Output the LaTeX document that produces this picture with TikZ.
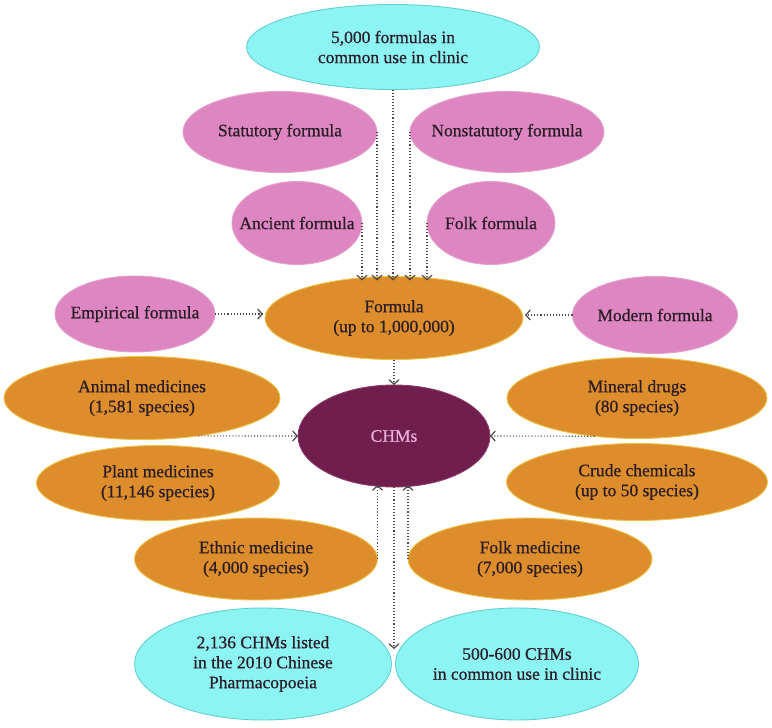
\documentclass[tikz,border=0pt]{standalone}
\usepackage{fontspec}
\setmainfont{Liberation Serif}
\newfontfamily\diagfont{Liberation Serif}[FakeBold=0.6]
\usetikzlibrary{shapes.geometric,arrows.meta}
\definecolor{cyanf}{HTML}{8DF4F4}
\definecolor{cyand}{HTML}{62CFD2}
\definecolor{pinkf}{HTML}{DD86C1}
\definecolor{pinkd}{HTML}{E3A0CE}
\definecolor{orangef}{HTML}{DD8D2B}
\definecolor{oranged}{HTML}{EDC34A}
\definecolor{purplef}{HTML}{6F1E4E}
\definecolor{purpled}{HTML}{8A3A6A}
\definecolor{chmtext}{HTML}{EBB0DC}
\definecolor{txtc}{HTML}{2A1C26}
\definecolor{arrc}{HTML}{4A4A4A}
\tikzset{
  ell/.style={ellipse, inner sep=0pt, outer sep=0pt, line width=0.9pt},
  cyanell/.style={ell, fill=cyanf, draw=cyand},
  pinkell/.style={ell, fill=pinkf, draw=pinkd},
  orangeell/.style={ell, fill=orangef, draw=oranged},
  purpleell/.style={ell, fill=purplef, draw=purpled},
  txt/.style={font=\diagfont\fontsize{17.5}{20}\selectfont, text=txtc, align=center, inner sep=0pt},
  chmtxt/.style={txt, text=chmtext},
  conn/.style={draw=arrc, line width=1.1pt, dash pattern=on 1.1pt off 2pt,
    -{Straight Barb[length=4.5pt,width=10pt,line width=1.2pt]}}
}
\begin{document}
\begin{tikzpicture}[x=1pt,y=-1pt]
\path[use as bounding box, fill=white] (0,0) rectangle (772,728);
% top formulas
\node[cyanell, minimum width=293pt, minimum height=85pt, label={[txt]center:{5,000 formulas in\\common use in clinic}}] (top) at (393,47) {};
\node[pinkell, minimum width=194pt, minimum height=81pt, label={[txt]center:{Statutory formula}}] (stat) at (280,132) {};
\node[pinkell, minimum width=194pt, minimum height=81pt, label={[txt]center:{Nonstatutory formula}}] (nonstat) at (507,132) {};
\node[pinkell, minimum width=130pt, minimum height=83pt, label={[txt]center:{Ancient formula}}] (anc) at (297,223) {};
\node[pinkell, minimum width=128pt, minimum height=83pt, label={[txt]center:{Folk formula}}] (folkf) at (491,223) {};
\node[pinkell, minimum width=160pt, minimum height=76pt, label={[txt]center:{Empirical formula}}] (emp) at (135,314) {};
\node[pinkell, minimum width=165pt, minimum height=77pt, label={[txt]center:{Modern formula}}] (mod) at (655,315) {};
\node[orangeell, minimum width=258pt, minimum height=83pt, label={[txt]center:{Formula\\(up to 1,000,000)}}] (form) at (394,318) {};
% medicines
\node[orangeell, minimum width=276pt, minimum height=83pt, label={[txt]center:{Animal medicines\\(1,581 species)}}] (anim) at (142,398) {};
\node[orangeell, minimum width=243pt, minimum height=75pt, label={[txt]center:{Plant medicines\\(11,146 species)}}] (plant) at (158,483) {};
\node[orangeell, minimum width=243pt, minimum height=82pt, label={[txt]center:{Ethnic medicine\\(4,000 species)}}] (eth) at (256,559) {};
\node[orangeell, minimum width=260pt, minimum height=81pt, label={[txt]center:{Mineral drugs\\(80 species)}}] (mine) at (637,398) {};
\node[orangeell, minimum width=261pt, minimum height=77pt, label={[txt]center:{Crude chemicals\\(up to 50 species)}}] (crude) at (637,482) {};
\node[orangeell, minimum width=244pt, minimum height=82pt, label={[txt]center:{Folk medicine\\(7,000 species)}}] (folkm) at (530,559) {};
\node[purpleell, minimum width=192pt, minimum height=102pt, label={[chmtxt]center:{CHMs}}] (chm) at (394,436) {};
% bottom
\node[cyanell, minimum width=257pt, minimum height=112pt, label={[txt]center:{2,136 CHMs listed\\in the 2010 Chinese\\Pharmacopoeia}}] (botl) at (263,664) {};
\node[cyanell, minimum width=243pt, minimum height=112pt, label={[txt]center:{500-600 CHMs\\in common use in clinic}}] (botr) at (517,664) {};
\coordinate (pend) at (394,649);
% connectors into Formula
\draw[conn] (top.south) -- ([yshift=-4pt]top.south |- form.north);
\draw[conn] (stat.east) -- ([yshift=-4pt]stat.east |- form.north);
\draw[conn] (nonstat.west) -- ([yshift=-4pt]nonstat.west |- form.north);
\draw[conn] (anc.east) -- ([yshift=-4pt]anc.east |- form.north);
\draw[conn] (folkf.west) -- ([yshift=-4pt]folkf.west |- form.north);
\draw[conn] (emp.east) -- ([xshift=-2pt]emp.east -| form.west);
\draw[conn] (mod.west) -- ([xshift=2pt]mod.west -| form.east);
% connectors into CHMs
\draw[conn] (form.south) -- (chm.north);
\draw[conn] (anim.-34) -- (chm.west);
\draw[conn] (mine.-138) -- (chm.east);
\draw[conn] (eth.east) -- ([yshift=2pt]eth.east |- chm.south);
\draw[conn] (folkm.west) -- ([yshift=2pt]folkm.west |- chm.south);
\draw[conn] (chm.south) -- (pend);
\end{tikzpicture}
\end{document}
